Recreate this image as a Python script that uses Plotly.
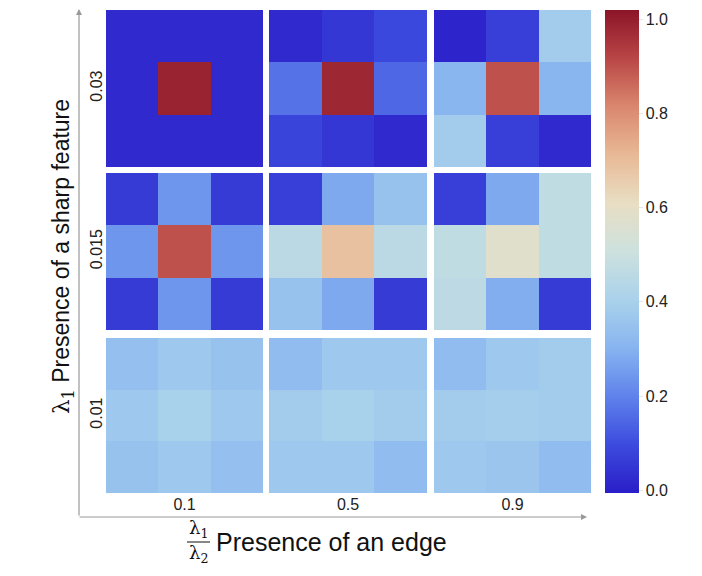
import plotly.graph_objects as go

# ---- data ----
edge_labels = ["0.1", "0.5", "0.9"]          # columns (lambda1/lambda2)
sharp_labels = ["0.03", "0.015", "0.01"]     # rows, top to bottom (lambda1)

# each block: 3x3, rows listed top to bottom
blk_003_01 = [[0.02, 0.02, 0.02], [0.02, 0.99, 0.02], [0.02, 0.02, 0.02]]
blk_003_05 = [[0.02, 0.05, 0.09], [0.17, 0.98, 0.15], [0.08, 0.05, 0.02]]
blk_003_09 = [[0.01, 0.07, 0.38], [0.31, 0.90, 0.31], [0.38, 0.07, 0.02]]
blk_0015_01 = [[0.06, 0.24, 0.06], [0.24, 0.90, 0.24], [0.06, 0.24, 0.06]]
blk_0015_05 = [[0.07, 0.28, 0.35], [0.45, 0.69, 0.45], [0.35, 0.28, 0.06]]
blk_0015_09 = [[0.07, 0.28, 0.47], [0.47, 0.58, 0.47], [0.46, 0.29, 0.06]]
blk_001_01 = [[0.34, 0.37, 0.35], [0.37, 0.40, 0.37], [0.35, 0.37, 0.34]]
blk_001_05 = [[0.33, 0.37, 0.37], [0.38, 0.40, 0.38], [0.37, 0.37, 0.33]]
blk_001_09 = [[0.33, 0.37, 0.38], [0.38, 0.39, 0.38], [0.37, 0.36, 0.33]]

blocks = [
    [blk_003_01, blk_003_05, blk_003_09],
    [blk_0015_01, blk_0015_05, blk_0015_09],
    [blk_001_01, blk_001_05, blk_001_09],
]

cbar_ticks = [0.0, 0.2, 0.4, 0.6, 0.8, 1.0]
cbar_ticktext = ["0.0", "0.2", "0.4", "0.6", "0.8", "1.0"]

colorscale = [
    [0.0, "rgb(42,30,200)"],
    [0.1, "rgb(60,75,222)"],
    [0.2, "rgb(95,130,235)"],
    [0.3, "rgb(135,180,240)"],
    [0.4, "rgb(170,210,235)"],
    [0.5, "rgb(205,225,222)"],
    [0.6, "rgb(232,222,195)"],
    [0.7, "rgb(232,185,150)"],
    [0.8, "rgb(218,135,110)"],
    [0.9, "rgb(185,70,70)"],
    [1.0, "rgb(140,20,40)"],
]

OFF = 8                      # page body margin
W, H = 702 - 2 * OFF, 576 - 2 * OFF


def px(x):
    return (x - OFF) / W


def py(y):
    return 1 - (y - OFF) / H


col_px = [(106, 263), (269, 427), (434, 591)]
row_px = [(10, 167), (173, 330), (338, 493)]

FONT = "Liberation Sans, Arial, sans-serif"
fig = go.Figure()
layout = {}
k = 0
for r in range(3):
    for c in range(3):
        k += 1
        xa = "x" if k == 1 else f"x{k}"
        ya = "y" if k == 1 else f"y{k}"
        z = blocks[r][c][::-1]  # bottom row first for plotly
        fig.add_trace(go.Heatmap(z=z, x=[0, 1, 2], y=[0, 1, 2], coloraxis="coloraxis",
                                 xaxis=xa, yaxis=ya, hoverinfo="z"))
        xk = "xaxis" if k == 1 else f"xaxis{k}"
        yk = "yaxis" if k == 1 else f"yaxis{k}"
        x0, x1 = col_px[c]
        y0, y1 = row_px[r]
        xd = dict(domain=[px(x0), px(x1)], anchor=ya, range=[-0.5, 2.5],
                  showgrid=False, zeroline=False, showline=False, fixedrange=True)
        yd = dict(domain=[py(y1), py(y0)], anchor=xa, range=[-0.5, 2.5],
                  showgrid=False, zeroline=False, showline=False, fixedrange=True)
        if r == 2:
            xd.update(tickvals=[1], ticktext=[edge_labels[c]], ticks="",
                      tickfont=dict(family=FONT, size=16, color="#222"))
        else:
            xd.update(showticklabels=False, ticks="")
        if c == 0:
            yd.update(tickvals=[1], ticktext=[sharp_labels[r]], ticks="", tickangle=-90,
                      tickfont=dict(family=FONT, size=16, color="#222"))
        else:
            yd.update(showticklabels=False, ticks="")
        layout[xk] = xd
        layout[yk] = yd

fig.update_layout(**layout)

fig.update_layout(
    width=W, height=H,
    margin=dict(l=0, r=0, t=0, b=0),
    paper_bgcolor="white", plot_bgcolor="white",
    coloraxis=dict(
        colorscale=colorscale, cmin=-0.006, cmax=1.02,
        colorbar=dict(
            x=px(605), xanchor="left", xpad=0, y=py(10), yanchor="top", ypad=0,
            len=(493 - 10) / H, lenmode="fraction", thickness=34,
            outlinewidth=0, tickmode="array", tickvals=cbar_ticks,
            ticktext=cbar_ticktext,
            ticks="outside", ticklen=4, tickcolor="#e6e6e6",
            tickfont=dict(family=FONT, size=16, color="#222"),
        ),
    ),
    showlegend=False,
)

# axis arrows
fig.add_annotation(x=px(587), y=py(517), xref="paper", yref="paper",
                   ax=-(587 - 78), ay=0, text="", showarrow=True,
                   arrowhead=2, arrowsize=1, arrowwidth=1.2, arrowcolor="#999")
fig.add_annotation(x=px(79), y=py(4), xref="paper", yref="paper",
                   ax=0, ay=(517 - 4), text="", showarrow=True,
                   arrowhead=2, arrowsize=1, arrowwidth=1.2, arrowcolor="#999")

# y title
fig.add_annotation(x=px(63), y=py(257), xref="paper", yref="paper", showarrow=False,
                   xanchor="center", yanchor="middle", textangle=-90,
                   text="<span style='font-family:DejaVu Serif'>λ<sub>1</sub></span> Presence of a sharp feature",
                   font=dict(family=FONT, size=23, color="#111"))
# x title with fraction
fig.add_annotation(x=px(198), y=py(529), xref="paper", yref="paper", showarrow=False,
                   xanchor="center", yanchor="middle",
                   text="λ<sub>1</sub>", font=dict(family="DejaVu Serif", size=18, color="#111"))
fig.add_annotation(x=px(198), y=py(554), xref="paper", yref="paper", showarrow=False,
                   xanchor="center", yanchor="middle",
                   text="λ<sub>2</sub>", font=dict(family="DejaVu Serif", size=18, color="#111"))
fig.add_shape(type="line", xref="paper", yref="paper", x0=px(187), x1=px(210),
              y0=py(542), y1=py(542), line=dict(color="#111", width=1))
fig.add_annotation(x=px(214), y=py(542), xref="paper", yref="paper", showarrow=False,
                   xanchor="left", yanchor="middle", text="Presence of an edge",
                   font=dict(family=FONT, size=25, color="#111"))

fig.write_html("out.html")
